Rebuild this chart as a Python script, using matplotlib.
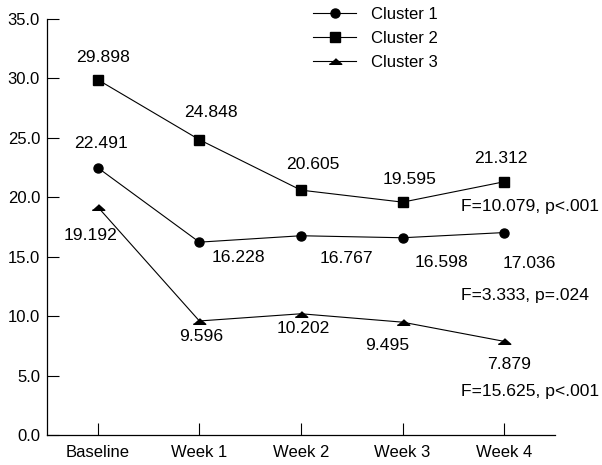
import matplotlib.pyplot as plt
import numpy as np

plt.rcParams['font.family'] = ['Liberation Sans', 'DejaVu Sans']
plt.rcParams['font.size'] = 12

weeks = ['Baseline', 'Week 1', 'Week 2', 'Week 3', 'Week 4']
cluster1 = [22.491, 16.228, 16.767, 16.598, 17.036]
cluster2 = [29.898, 24.848, 20.605, 19.595, 21.312]
cluster3 = [19.192, 9.596, 10.202, 9.495, 7.879]
stats = ['F=10.079, p<.001', 'F=3.333, p=.024', 'F=15.625, p<.001']

# label offsets in pixels (dx, dy) from each point
off1 = [(3, 24), (39, -15), (45, -23), (39, -25), (25, -31)]
off2 = [(5, 22), (12, 27), (12, 26), (7, 23), (-3, 23)]
off3 = [(-7, -29), (2, -16), (2, -15), (-15, -23), (5, -23)]

fig = plt.figure(figsize=(6.02, 4.65), dpi=100)
ax = fig.add_axes([0.078, 0.0645, 0.844, 0.8945])

x = np.arange(len(weeks))
tri = [(-1, -0.45), (1, -0.45), (0, 0.45)]
l1, = ax.plot(x, cluster1, '-', color='black', lw=0.8, marker='o', ms=6.5, label='Cluster 1')
l2, = ax.plot(x, cluster2, '-', color='black', lw=0.8, marker='s', ms=7, label='Cluster 2')
l3, = ax.plot(x, cluster3, '-', color='black', lw=0.8, marker=tri, ms=9, label='Cluster 3')

for vals, offs in [(cluster1, off1), (cluster2, off2), (cluster3, off3)]:
    for i, v in enumerate(vals):
        ax.annotate(f'{v:.3f}', (i, v), xytext=offs[i], textcoords='offset pixels',
                    ha='center', va='center', fontsize=12.6)

# F statistics next to the last point of each cluster
for s, vals, dy in [(stats[0], cluster2, -25), (stats[1], cluster1, -63), (stats[2], cluster3, -50)]:
    ax.annotate(s, (4, vals[-1]), xytext=(-43, dy), textcoords='offset pixels',
                ha='left', va='center', fontsize=12.6, annotation_clip=False)

ax.set_xlim(-0.5, 4.5)
ax.set_ylim(0, 35)
ax.set_xticks(x)
ax.set_xticklabels(weeks)
ax.set_yticks(np.arange(0, 36, 5))
ax.set_yticklabels([f'{t:.1f}' for t in np.arange(0, 36, 5)])
ax.tick_params(axis='both', direction='in', length=8.5, width=0.8, color='black')
ax.tick_params(axis='y', pad=5)
ax.tick_params(axis='x', pad=7)
ax.spines['top'].set_visible(False)
ax.spines['right'].set_visible(False)
ax.spines['left'].set_linewidth(0.9)
ax.spines['bottom'].set_linewidth(0.9)

ax.legend(handles=[l1, l2, l3], loc='upper left', bbox_to_anchor=(313 / 602, 1 - 7 / 465),
          bbox_transform=fig.transFigure, frameon=False, borderpad=0, borderaxespad=0,
          handlelength=2.6, handletextpad=0.9, labelspacing=0.53)

fig.savefig('out.png', dpi=100)
